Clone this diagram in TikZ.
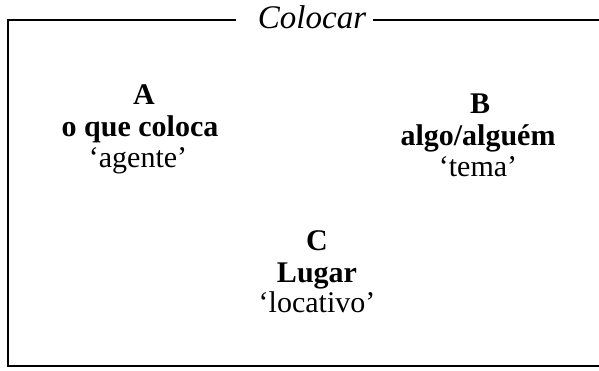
\documentclass[tikz,border=0pt]{standalone}
\usepackage{fontspec}
\setmainfont{Liberation Serif}
\begin{document}
\begin{tikzpicture}[x=1pt,y=-1pt,
  lbl/.style={anchor=base,inner sep=0pt,font=\fontsize{30}{32}\selectfont},
  hd/.style={lbl,font=\fontsize{30}{32}\selectfont\bfseries},
  frame/.style={line width=1.8pt}]
\useasboundingbox (0,0) rectangle (599,370);
\node[lbl,font=\fontsize{33}{35}\selectfont\itshape] (title) at (312,28) {Colocar};
\coordinate (tl) at (8,20);
\coordinate (tr) at (599,20);
\coordinate (bl) at (8,366);
\coordinate (br) at (599,366);
\draw[frame] (title.west |- tl) ++(-22,0) -- (tl) -- (bl) -- (br);
\draw[frame] (title.east |- tr) ++(7,0) -- (tr);
% A
\node[hd] (a1) at (144,104) {A};
\node[hd] (a2) at (140,136) {o que coloca};
\node[lbl] (a3) at (138,167) {‘agente’};
% B
\node[hd] (b1) at (480,113) {B};
\node[hd] (b2) at (478,145) {algo/alguém};
\node[lbl] (b3) at (478,176) {‘tema’};
% C
\node[hd] (c1) at (317,250) {C};
\node[hd] (c2) at (317,282) {Lugar};
\node[lbl] (c3) at (317,312) {‘locativo’};
\end{tikzpicture}
\end{document}
